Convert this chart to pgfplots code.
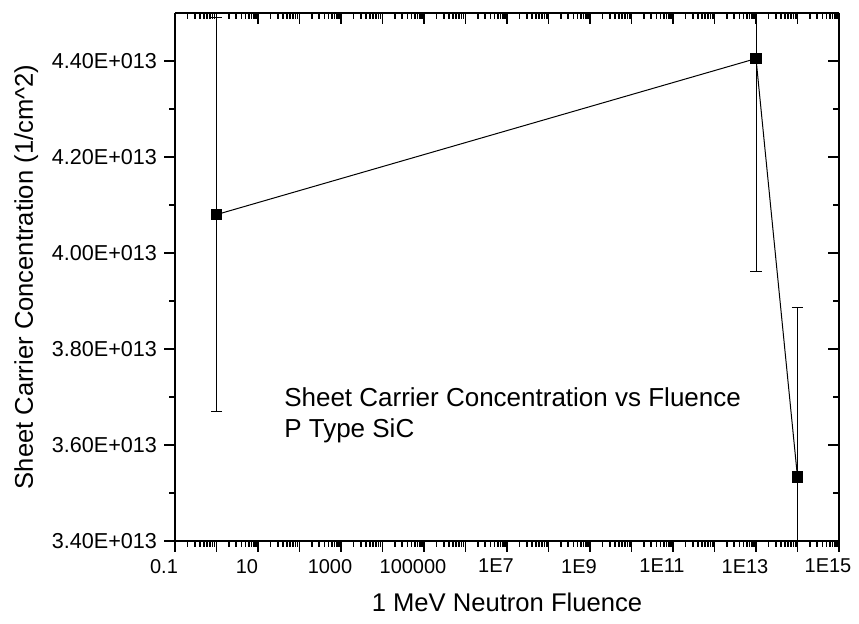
\documentclass[border=0pt]{standalone}
\usepackage{pgfplots}
\pgfplotsset{compat=1.18}
\usepackage{fontspec}
\setmainfont{Liberation Sans}

\begin{document}
\begin{tikzpicture}
\begin{axis}[
    scale only axis, width=332pt, height=264pt,
    xmode=log, xmin=0.1, xmax=1e15, ymin=3.4e13, ymax=4.5e13,
    xtick={0.1,1,10,100,1000,1e4,1e5,1e6,1e7,1e8,1e9,1e10,1e11,1e12,1e13,1e14,1e15},
    minor xtick={2e-1,3e-1,4e-1,5e-1,6e-1,7e-1,8e-1,9e-1,
      2e0,3e0,4e0,5e0,6e0,7e0,8e0,9e0, 2e1,3e1,4e1,5e1,6e1,7e1,8e1,9e1,
      2e2,3e2,4e2,5e2,6e2,7e2,8e2,9e2, 2e3,3e3,4e3,5e3,6e3,7e3,8e3,9e3,
      2e4,3e4,4e4,5e4,6e4,7e4,8e4,9e4, 2e5,3e5,4e5,5e5,6e5,7e5,8e5,9e5,
      2e6,3e6,4e6,5e6,6e6,7e6,8e6,9e6, 2e7,3e7,4e7,5e7,6e7,7e7,8e7,9e7,
      2e8,3e8,4e8,5e8,6e8,7e8,8e8,9e8, 2e9,3e9,4e9,5e9,6e9,7e9,8e9,9e9,
      2e10,3e10,4e10,5e10,6e10,7e10,8e10,9e10, 2e11,3e11,4e11,5e11,6e11,7e11,8e11,9e11,
      2e12,3e12,4e12,5e12,6e12,7e12,8e12,9e12, 2e13,3e13,4e13,5e13,6e13,7e13,8e13,9e13,
      2e14,3e14,4e14,5e14,6e14,7e14,8e14,9e14},
    ytick={3.4e13,3.6e13,3.8e13,4.0e13,4.2e13,4.4e13},
    minor ytick={3.5e13,3.7e13,3.9e13,4.1e13,4.3e13},
    scaled y ticks=false,
    axis line style={line width=1pt,-},
    major tick length=5.5pt, minor tick length=2.8pt,
    every tick/.style={black, line width=0.9pt},
    xticklabel style={font=\fontsize{10}{12}\selectfont, xshift=-5.5pt},
    yticklabel style={font=\fontsize{10.8}{12}\selectfont},
    xlabel style={font=\fontsize{12.8}{15}\selectfont, yshift=-3pt},
    ylabel style={font=\fontsize{12.8}{15}\selectfont},
  axis x line*=bottom, axis y line*=left, tick align=outside,
  xticklabels={0.1,,10,,1000,,100000,,1E7,,1E9,,1E11,,1E13,,1E15},
  yticklabels={3.40E+013,3.60E+013,3.80E+013,4.00E+013,4.20E+013,4.40E+013},
  xlabel={1 MeV Neutron Fluence},
  ylabel={Sheet Carrier Concentration (1/cm\textasciicircum 2)},
]
\addplot[black, line width=0.5pt, mark=square*, mark size=2.7pt,
  error bars/.cd, y dir=both, y explicit,
  error bar style={line width=0.5pt, black},
  error mark options={rotate=90, mark size=2.8pt, line width=0.5pt, black}]
  coordinates {
    (1,4.08e13) +- (0,0.41e13)
    (1e13,4.405e13) +- (0,0.444e13)
    (1e14,3.533e13) +- (0,0.354e13)
  };
\node[anchor=north west, align=left, inner sep=0pt,
  font=\fontsize{13}{15.5}\selectfont] at (axis cs:42,3.72e13)
  {Sheet Carrier Concentration vs Fluence\\P Type SiC};
\end{axis}
\begin{axis}[
    scale only axis, width=332pt, height=264pt,
    xmode=log, xmin=0.1, xmax=1e15, ymin=3.4e13, ymax=4.5e13,
    xtick={0.1,1,10,100,1000,1e4,1e5,1e6,1e7,1e8,1e9,1e10,1e11,1e12,1e13,1e14,1e15},
    minor xtick={2e-1,3e-1,4e-1,5e-1,6e-1,7e-1,8e-1,9e-1,
      2e0,3e0,4e0,5e0,6e0,7e0,8e0,9e0, 2e1,3e1,4e1,5e1,6e1,7e1,8e1,9e1,
      2e2,3e2,4e2,5e2,6e2,7e2,8e2,9e2, 2e3,3e3,4e3,5e3,6e3,7e3,8e3,9e3,
      2e4,3e4,4e4,5e4,6e4,7e4,8e4,9e4, 2e5,3e5,4e5,5e5,6e5,7e5,8e5,9e5,
      2e6,3e6,4e6,5e6,6e6,7e6,8e6,9e6, 2e7,3e7,4e7,5e7,6e7,7e7,8e7,9e7,
      2e8,3e8,4e8,5e8,6e8,7e8,8e8,9e8, 2e9,3e9,4e9,5e9,6e9,7e9,8e9,9e9,
      2e10,3e10,4e10,5e10,6e10,7e10,8e10,9e10, 2e11,3e11,4e11,5e11,6e11,7e11,8e11,9e11,
      2e12,3e12,4e12,5e12,6e12,7e12,8e12,9e12, 2e13,3e13,4e13,5e13,6e13,7e13,8e13,9e13,
      2e14,3e14,4e14,5e14,6e14,7e14,8e14,9e14},
    ytick={3.4e13,3.6e13,3.8e13,4.0e13,4.2e13,4.4e13},
    minor ytick={3.5e13,3.7e13,3.9e13,4.1e13,4.3e13},
    scaled y ticks=false,
    axis line style={line width=1pt,-},
    major tick length=5.5pt, minor tick length=2.8pt,
    every tick/.style={black, line width=0.9pt},
  axis x line*=top, axis y line*=right, tick align=inside,
  xticklabels={}, yticklabels={},
]
\end{axis}
\pgfresetboundingbox
\path (-87.5pt,-41.5pt) rectangle (342pt,270.5pt);
\end{tikzpicture}
\end{document}
